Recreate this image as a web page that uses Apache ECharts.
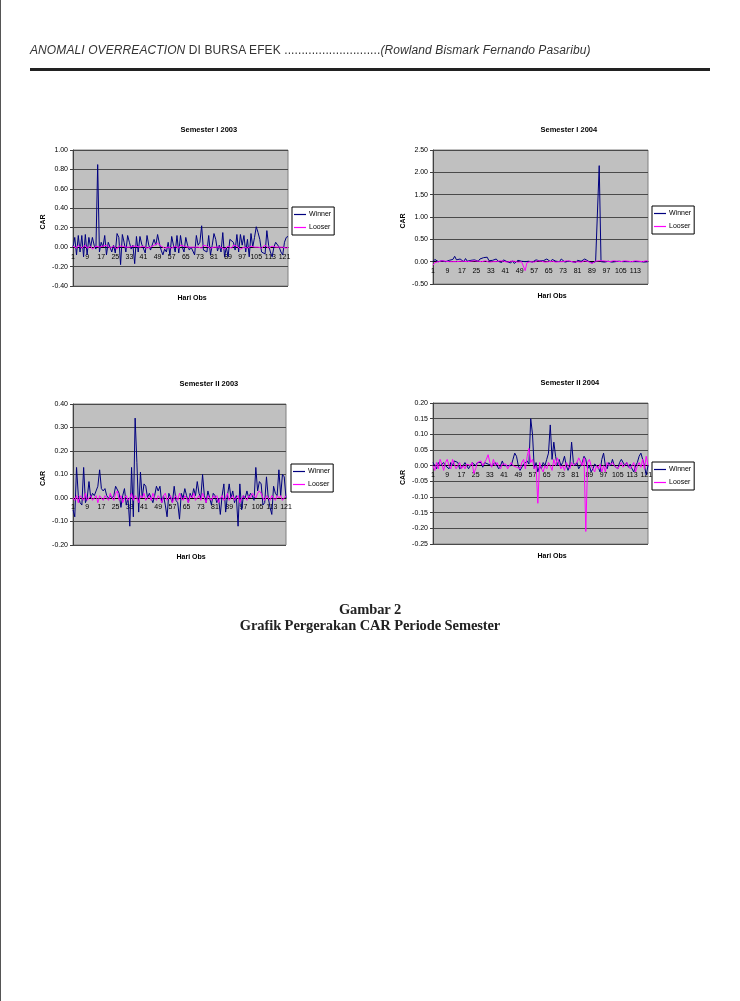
<!DOCTYPE html>
<html>
<head>
<meta charset="utf-8">
<script src="https://cdn.jsdelivr.net/npm/echarts@6/dist/echarts.min.js"></script>
<style>
  html, body { margin: 0; padding: 0; background: #fff; }
  #page { position: relative; width: 740px; height: 1001px; overflow: hidden; background: #fff; }
  #chart { position: absolute; left: 0; top: 0; width: 740px; height: 1001px; }
  #leftline { position: absolute; left: 0; top: 0; width: 1px; height: 1001px; background: #555; }
  #header { position: absolute; left: 30px; top: 43px; font-family: 'Liberation Sans', Arial, sans-serif; font-size: 12px; letter-spacing: 0.1px; color: #333; white-space: nowrap; }
  #rule { position: absolute; left: 30px; top: 68px; width: 680px; height: 3px; background: #222; }
  #caption { position: absolute; left: 0; top: 601px; width: 740px; text-align: center; font-family: 'Liberation Serif', 'Times New Roman', serif; font-weight: bold; font-size: 14.5px; line-height: 16px; color: #222; letter-spacing: -0.1px; }
</style>
</head>
<body>
<div id="page">
  <div id="chart"></div>
  <div id="leftline"></div>
  <div id="header"><i>ANOMALI OVERREACTION</i> DI BURSA EFEK ............................<i>(Rowland Bismark Fernando Pasaribu)</i></div>
  <div id="rule"></div>
  <div id="caption">Gambar 2<br>Grafik Pergerakan CAR Periode Semester</div>
</div>
<script>
// ---------- DATA ----------
var titles = ['Semester I 2003', 'Semester I 2004', 'Semester II 2003', 'Semester II 2004'];
var seriesNames = ['Winner', 'Looser'];

var winnerS1_2003 = [0.0,0.1,-0.08,0.12,-0.05,0.12,-0.1,0.13,-0.08,0.1,
  0.0,0.1,0.02,-0.02,0.85,-0.05,0.05,0.0,0.12,-0.08,
  0.05,0.0,-0.05,0.02,-0.06,0.14,0.1,-0.18,0.13,0.05,
  -0.05,0.12,0.05,-0.02,0.02,-0.17,0.11,-0.05,0.11,0.03,
  0.05,-0.06,0.12,0.02,-0.03,-0.05,0.08,0.02,0.13,0.04,
  -0.03,-0.08,-0.02,-0.05,0.05,-0.08,0.11,0.02,-0.05,0.12,
  -0.06,0.12,0.0,-0.05,0.1,0.02,-0.03,0.0,-0.02,-0.08,
  0.12,0.02,0.05,0.22,-0.03,-0.02,-0.05,0.12,-0.08,0.02,
  0.14,0.08,-0.04,0.02,-0.05,0.15,-0.1,0.0,-0.1,0.08,
  0.07,0.05,-0.03,0.13,-0.05,0.13,0.02,0.12,-0.05,0.08,
  -0.1,0.14,0.0,0.1,0.21,0.15,0.08,-0.05,-0.06,-0.07,
  0.17,0.02,-0.05,-0.1,0.0,0.05,0.07,0.0,-0.05,-0.08,
  0.05,0.1,0.11];
var looserS1_2003 = [0.01,0.0,-0.01,0.02,0.0,-0.01,0.01,0.02,-0.01,0.0,
  0.01,-0.02,0.0,0.01,0.02,0.0,-0.01,0.01,0.0,0.02,
  0.01,-0.01,0.0,0.01,0.0,-0.02,0.01,0.0,0.01,-0.01,
  0.0,0.02,0.0,-0.01,0.01,0.0,0.01,-0.01,0.0,0.02,
  0.01,0.0,-0.01,0.01,0.0,0.01,0.02,0.03,0.04,0.03,
  0.01,0.0,-0.01,0.01,0.0,0.01,-0.01,0.0,0.01,0.0,
  -0.01,0.02,0.0,0.01,-0.01,0.0,0.01,0.0,-0.02,0.0,
  0.01,0.0,0.01,-0.01,0.02,0.03,0.01,0.0,-0.01,0.01,
  0.0,0.02,0.0,-0.01,0.0,0.01,-0.02,0.0,0.01,0.0,
  -0.01,0.02,0.0,0.01,0.0,-0.02,-0.03,0.0,0.01,-0.01,
  0.0,0.01,0.02,0.0,-0.01,0.0,0.01,-0.01,0.0,0.02,
  0.0,-0.01,0.0,0.01,-0.01,0.0,0.01,0.0,-0.01,0.0,
  0.01,-0.01,0.0];

var winnerS1_2004 = [0.0,0.05,0.03,0.0,-0.02,0.02,0.04,0.0,-0.01,0.03,
  0.02,0.05,0.12,0.04,0.01,0.06,0.02,0.0,0.07,0.01,
  -0.01,0.03,0.0,0.04,0.02,0.01,0.06,0.03,0.09,0.08,
  0.1,0.02,0.0,0.03,-0.01,0.06,0.01,0.02,-0.02,0.04,
  0.03,0.0,0.01,-0.03,0.02,-0.04,0.0,0.03,0.04,0.01,
  -0.02,0.0,0.02,0.01,0.05,-0.01,0.03,0.04,0.0,0.02,
  0.05,0.02,-0.01,0.06,0.03,0.0,0.05,0.02,0.01,0.04,
  0.0,0.06,0.02,-0.01,0.03,0.01,0.05,0.0,0.02,-0.02,
  0.03,0.0,0.01,0.04,0.06,0.03,0.01,0.0,-0.03,0.01,
  0.0,0.02,2.15,0.0,0.01,-0.01,0.0,0.01,0.0,-0.01,
  0.01,0.0,0.0,0.01,-0.01,0.0,0.01,0.0,-0.01,0.0,
  0.01,0.0,-0.01,0.0,0.01,0.0,0.01,-0.01,0.0,0.0];
var looserS1_2004 = [-0.08,-0.02,0.01,0.0,-0.01,0.02,0.0,0.01,-0.01,0.0,
  0.01,0.0,0.02,0.0,-0.01,0.01,0.0,0.01,0.02,0.0,
  -0.01,0.01,0.0,0.02,0.0,0.01,-0.01,0.0,0.01,0.02,
  0.0,-0.01,0.01,0.0,0.01,0.0,-0.01,0.02,0.0,0.01,
  0.0,-0.01,0.0,0.01,0.02,0.01,0.0,-0.01,0.01,0.0,
  -0.03,-0.2,-0.02,0.01,0.0,0.01,-0.01,0.0,0.02,0.0,
  0.01,0.0,-0.01,0.01,0.0,0.02,0.01,0.0,-0.01,0.01,
  0.0,0.01,0.0,-0.01,0.02,0.0,0.01,0.0,-0.01,0.01,
  0.0,0.01,-0.01,0.0,0.02,0.01,0.0,-0.01,-0.04,-0.02,
  0.01,0.0,0.02,0.01,0.02,0.0,0.01,0.02,0.0,0.01,
  0.02,0.0,0.01,0.02,0.0,0.01,0.02,0.0,0.01,0.02,
  0.0,0.01,0.02,0.0,0.01,0.02,0.0,0.01,0.02,0.01];

var winnerS2_2003 = [-0.05,-0.08,0.13,0.01,-0.02,-0.03,0.13,-0.02,0.0,0.07,
  0.0,0.02,0.01,0.03,0.05,0.12,0.04,0.03,0.04,0.01,
  0.0,0.01,0.0,0.01,0.05,0.05,0.02,-0.04,0.01,0.04,
  -0.03,0.0,-0.12,0.13,-0.08,0.34,0.15,-0.06,0.11,0.0,
  0.06,0.05,0.0,0.02,0.02,-0.02,0.01,0.05,0.03,0.05,
  -0.02,0.01,-0.03,-0.08,0.02,0.0,-0.02,0.05,-0.01,-0.02,
  -0.09,0.02,0.0,0.04,0.01,-0.02,0.02,0.0,0.04,0.01,
  0.07,0.02,0.0,0.1,0.01,-0.02,0.03,0.0,-0.03,0.02,
  0.01,-0.02,0.0,-0.07,0.01,0.06,-0.06,0.01,0.06,0.0,
  0.03,-0.02,0.01,-0.12,0.06,-0.05,0.01,0.0,0.03,0.0,
  0.02,0.01,-0.01,0.13,0.03,0.07,0.06,-0.03,-0.02,0.09,
  0.0,-0.04,-0.07,0.05,0.02,0.01,0.12,0.01,0.1,0.09,
  0.0];
var looserS2_2003 = [0.0,-0.01,0.01,-0.02,0.01,0.0,-0.01,0.02,-0.01,0.0,
  0.01,-0.01,0.0,0.01,-0.02,0.01,0.0,-0.01,0.01,0.0,
  -0.01,0.02,0.0,-0.01,0.02,0.03,-0.01,0.01,-0.02,0.0,
  0.01,-0.01,0.0,0.02,-0.01,0.01,0.0,-0.02,0.01,0.0,
  0.02,-0.01,0.0,0.01,-0.01,0.02,0.0,-0.01,0.01,0.0,
  -0.02,0.01,0.02,-0.01,0.0,0.01,-0.02,0.0,0.01,-0.01,
  0.02,0.0,-0.01,0.01,0.0,-0.02,0.01,0.0,0.02,-0.01,
  0.0,0.01,-0.01,0.02,0.0,-0.02,0.01,0.0,-0.01,0.01,
  0.0,0.01,-0.02,0.0,0.01,-0.01,0.0,0.02,-0.01,0.0,
  0.01,-0.01,0.0,0.01,-0.02,0.0,0.01,0.0,-0.01,0.01,
  0.0,0.02,0.01,0.0,0.02,0.03,0.02,0.0,-0.01,0.01,
  0.0,-0.01,0.01,0.0,-0.01,0.01,0.0,0.01,-0.01,0.0,
  0.01];

var winnerS2_2004 = [0.01,0.005,-0.01,0.01,0.0,-0.005,0.01,0.0,0.005,-0.01,
  0.01,0.0,0.015,0.02,0.01,-0.01,-0.015,0.0,0.01,0.005,
  -0.01,-0.015,0.01,0.015,0.0,0.01,0.005,0.01,-0.005,0.01,
  0.015,0.005,0.01,0.0,-0.005,0.01,0.005,-0.01,0.0,0.015,
  0.0,-0.005,0.0,0.005,0.0,0.02,0.04,0.03,0.0,-0.015,
  -0.01,0.005,0.0,0.015,0.005,0.15,0.1,-0.01,0.01,-0.02,
  0.0,-0.01,0.01,0.0,0.02,0.04,0.13,0.02,0.075,0.03,
  0.0,0.02,0.0,0.01,0.03,0.0,-0.015,0.0,0.075,0.01,
  0.0,0.01,-0.01,0.0,0.01,0.03,0.02,-0.01,0.0,-0.02,
  -0.01,0.005,0.0,-0.005,-0.02,0.02,0.04,0.0,-0.01,0.01,
  0.0,0.02,0.0,0.005,-0.01,0.01,0.02,0.015,0.0,0.01,
  -0.005,0.005,-0.01,-0.02,0.0,0.01,0.03,0.04,0.02,0.0,
  -0.03,0.0];
var looserS2_2004 = [0.0,-0.015,0.01,-0.01,0.02,0.005,-0.015,0.01,0.02,0.0,
  -0.01,0.02,0.005,-0.01,0.0,0.01,-0.01,0.0,-0.01,0.005,
  0.01,0.0,0.01,-0.025,-0.01,0.01,0.005,0.015,0.0,0.01,
  0.02,0.035,0.01,-0.005,0.02,0.0,0.01,0.0,-0.01,0.005,
  0.0,0.005,-0.01,0.0,0.01,0.0,0.005,-0.005,0.0,-0.01,
  0.01,0.02,-0.01,0.03,0.055,0.01,0.02,-0.01,0.0,-0.12,
  0.01,-0.01,-0.02,0.0,-0.01,0.01,0.0,-0.015,0.02,0.0,
  0.025,0.02,-0.01,0.0,-0.015,0.01,0.0,-0.01,0.01,0.0,
  -0.005,0.01,0.025,0.02,0.0,0.025,-0.21,0.01,0.02,0.0,
  -0.01,-0.02,0.0,-0.01,0.005,-0.02,0.0,-0.02,0.01,0.0,
  -0.005,0.01,0.0,0.005,-0.01,0.0,0.01,-0.005,0.0,0.01,
  0.0,-0.01,0.0,0.01,-0.02,0.0,0.01,-0.005,0.02,-0.01,
  0.03,0.0];

// y-axis ranges [min, max, interval]
var yRanges = [[-0.4, 1.0, 0.2], [-0.5, 2.5, 0.5], [-0.2, 0.4, 0.1], [-0.25, 0.2, 0.05]];

var winners = [winnerS1_2003, winnerS1_2004, winnerS2_2003, winnerS2_2004];
var loosers = [looserS1_2003, looserS1_2004, looserS2_2003, looserS2_2004];

// ---------- LAYOUT ----------
var grids = [
  {left: 73, top: 150, width: 215, height: 136},
  {left: 433, top: 150, width: 215, height: 134},
  {left: 73, top: 404, width: 213, height: 141},
  {left: 433, top: 403, width: 215, height: 141}
];
var legendPos = [[292, 207], [652, 206], [291, 464], [652, 462]];

var FONT = "'Liberation Sans', Arial, sans-serif";
var option = {
  animation: false,
  grid: [], xAxis: [], yAxis: [], series: [], legend: [], graphic: []
};

for (var i = 0; i < 4; i++) {
  var g = grids[i];
  var n = winners[i].length;
  var cats = [];
  for (var k = 1; k <= n; k++) cats.push(String(k));
  var r = yRanges[i];
  // the category axis crosses the value axis at zero (Excel style)
  var zeroOffset = -g.height * (0 - r[0]) / (r[1] - r[0]);
  option.grid.push({
    left: g.left, top: g.top, width: g.width, height: g.height,
    show: true, backgroundColor: '#c0c0c0', borderColor: '#808080', borderWidth: 1,
    containLabel: false
  });
  option.xAxis.push({
    type: 'category', gridIndex: i, data: cats, boundaryGap: false,
    position: 'bottom', offset: zeroOffset,
    axisLine: {onZero: false, lineStyle: {color: '#000', width: 1}},
    axisTick: {show: false},
    axisLabel: {interval: 7, fontSize: 7, color: '#000', fontFamily: FONT, margin: 6},
    splitLine: {show: false}
  });
  option.yAxis.push({
    type: 'value', gridIndex: i, min: r[0], max: r[1], interval: r[2],
    axisLine: {show: true, onZero: false, lineStyle: {color: '#404040'}},
    axisTick: {show: true, length: 3, lineStyle: {color: '#404040'}},
    axisLabel: {fontSize: 7, color: '#000', fontFamily: FONT, margin: 5,
      formatter: function (v) { return v.toFixed(2); }},
    splitLine: {show: true, lineStyle: {color: '#4a4a4a', width: 1}}
  });
  option.series.push({
    name: seriesNames[0], type: 'line', xAxisIndex: i, yAxisIndex: i,
    data: winners[i], symbol: 'none', showSymbol: false,
    lineStyle: {color: '#000080', width: 1},
    itemStyle: {color: '#000080'}, z: 2
  });
  option.series.push({
    name: seriesNames[1], type: 'line', xAxisIndex: i, yAxisIndex: i,
    data: loosers[i], symbol: 'none', showSymbol: false,
    lineStyle: {color: '#ff00ff', width: 1},
    itemStyle: {color: '#ff00ff'}, z: 3
  });
  option.legend.push({
    left: legendPos[i][0], top: legendPos[i][1], orient: 'vertical',
    data: seriesNames, icon: 'rect', itemWidth: 12, itemHeight: 1.2, itemGap: 6,
    padding: [4, 3, 4, 2], borderColor: '#000', borderWidth: 1, backgroundColor: '#fff',
    textStyle: {fontSize: 7, color: '#000', fontFamily: FONT, padding: [0, 0, 0, -2]},
    selectedMode: false
  });
  var cx = g.left + g.width / 2;
  option.graphic.push({
    type: 'text', left: cx, top: g.top - 24,
    style: {text: titles[i], font: "bold 7.5px " + FONT, fill: '#000', textAlign: 'center'}
  });
  option.graphic.push({
    type: 'text', left: cx - 3, top: g.top + g.height + 9,
    style: {text: 'Hari Obs', font: "bold 7px " + FONT, fill: '#000', textAlign: 'center'}
  });
  option.graphic.push({
    type: 'text', x: g.left - 30, y: g.top + g.height / 2 + 4, rotation: Math.PI / 2,
    style: {text: 'CAR', font: "bold 7px " + FONT, fill: '#000', textAlign: 'center', textVerticalAlign: 'middle'}
  });
}

var chart = echarts.init(document.getElementById('chart'), null, {renderer: 'canvas'});
chart.setOption(option);
</script>
</body>
</html>
